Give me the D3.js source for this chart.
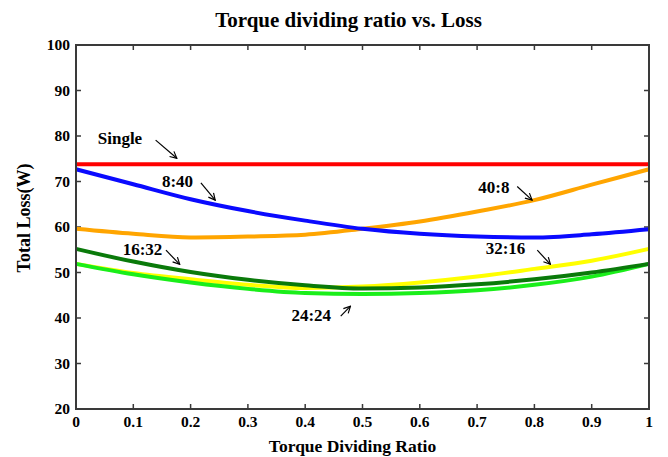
<!DOCTYPE html>
<html lang="en">
<head>
    <meta charset="UTF-8">
    <title>Torque dividing ratio vs. Loss</title>
    <script src="https://d3js.org/d3.v7.min.js"></script>
    <style>
        body { margin: 0; background: #fff; }
        svg { display: block; font-family: "Liberation Serif", "Times New Roman", serif; font-weight: bold; }
    </style>
</head>
<body>
    <div id="chart"></div>
    <script>
        // data
        const ratios = [0, 0.1, 0.2, 0.3, 0.4, 0.5, 0.6, 0.7, 0.8, 0.9, 1];
        const single = [73.8, 73.8, 73.8, 73.8, 73.8, 73.8, 73.8, 73.8, 73.8, 73.8, 73.8];
        const r8_40 = [72.7, 69.4, 66.1, 63.5, 61.4, 59.6, 58.5, 57.9, 57.7, 58.4, 59.5];
        const r40_8 = [59.6, 58.5, 57.7, 57.9, 58.3, 59.6, 61.2, 63.4, 65.9, 69.3, 72.7];
        const r32_16 = [51.9, 49.9, 48.5, 47.3, 46.6, 46.9, 47.8, 49.1, 50.8, 52.6, 55.2];
        const r24_24 = [51.9, 49.6, 47.8, 46.4, 45.5, 45.3, 45.5, 46.1, 47.3, 49.1, 51.9];
        const r16_32 = [55.2, 52.4, 50.1, 48.4, 47.2, 46.5, 46.7, 47.4, 48.5, 50.0, 51.9];
        const xTicks = [0, 0.1, 0.2, 0.3, 0.4, 0.5, 0.6, 0.7, 0.8, 0.9, 1];
        const yTicks = [20, 30, 40, 50, 60, 70, 80, 90, 100];

        // draw order matters: yellow under light green, dark green on top
        const series = [
            { name: "Single", values: single, color: "#ff0000" },
            { name: "40:8", values: r40_8, color: "#ffa500" },
            { name: "8:40", values: r8_40, color: "#0a0aff" },
            { name: "32:16", values: r32_16, color: "#ffff00" },
            { name: "24:24", values: r24_24, color: "#1aee1a" },
            { name: "16:32", values: r16_32, color: "#0a7a0a" }
        ];

        // labels with their arrows, in data units: text start, arrow from -> to
        const notes = [
            { text: "Single", tx: 0.038, ty: 78.2, ax: 0.139, ay: 79.1, bx: 0.176, by: 75.1 },
            { text: "8:40", tx: 0.150, ty: 68.8, ax: 0.218, ay: 69.7, bx: 0.243, by: 65.9 },
            { text: "40:8", tx: 0.702, ty: 67.5, ax: 0.770, ay: 68.9, bx: 0.796, by: 65.9 },
            { text: "16:32", tx: 0.0815, ty: 53.8, ax: 0.157, ay: 54.9, bx: 0.181, by: 51.8 },
            { text: "24:24", tx: 0.376, ty: 39.3, ax: 0.462, ay: 40.4, bx: 0.479, by: 42.6 },
            { text: "32:16", tx: 0.715, ty: 54.0, ax: 0.805, ay: 54.9, bx: 0.828, by: 51.8 }
        ];

        const width = 668, height = 457;
        const margin = { top: 45, right: 19, bottom: 48, left: 76 };

        const svg = d3.select("#chart").append("svg")
            .attr("width", width)
            .attr("height", height);

        const x = d3.scaleLinear().domain([0, 1]).range([margin.left, width - margin.right]);
        const y = d3.scaleLinear().domain([20, 100]).range([height - margin.bottom, margin.top]);

        const axisColor = "#3a3a3a";
        const tickLen = 5;

        // inward ticks on all four sides
        const g = svg.append("g");
        g.selectAll(".xt").data(xTicks).join("line")
            .attr("x1", d => x(d)).attr("x2", d => x(d))
            .attr("y1", y(20)).attr("y2", y(20) - tickLen)
            .attr("stroke", axisColor).attr("stroke-width", 1.5);
        g.selectAll(".xtt").data(xTicks).join("line")
            .attr("x1", d => x(d)).attr("x2", d => x(d))
            .attr("y1", y(100)).attr("y2", y(100) + tickLen)
            .attr("stroke", axisColor).attr("stroke-width", 1.5);
        g.selectAll(".yt").data(yTicks).join("line")
            .attr("x1", x(0)).attr("x2", x(0) + tickLen)
            .attr("y1", d => y(d)).attr("y2", d => y(d))
            .attr("stroke", axisColor).attr("stroke-width", 1.5);
        g.selectAll(".ytr").data(yTicks).join("line")
            .attr("x1", x(1)).attr("x2", x(1) - tickLen)
            .attr("y1", d => y(d)).attr("y2", d => y(d))
            .attr("stroke", axisColor).attr("stroke-width", 1.5);

        // tick labels
        svg.selectAll(".xl").data(xTicks).join("text")
            .attr("x", d => x(d)).attr("y", y(20) + 18)
            .attr("text-anchor", "middle")
            .attr("font-size", 15.5)
            .text(d => d3.format("")(d));
        svg.selectAll(".yl").data(yTicks).join("text")
            .attr("x", x(0) - 6).attr("y", d => y(d) + 5)
            .attr("text-anchor", "end")
            .attr("font-size", 15.5)
            .text(d => d);

        // series lines, slightly smoothed like the original plot
        const line = d3.line()
            .x((d, i) => x(ratios[i]))
            .y(d => y(d))
            .curve(d3.curveMonotoneX);

        svg.selectAll(".series").data(series).join("path")
            .attr("fill", "none")
            .attr("stroke", d => d.color)
            .attr("stroke-width", 4)
            .attr("stroke-linejoin", "round")
            .attr("d", d => line(d.values));

        // frame on top of the lines
        svg.append("rect")
            .attr("x", x(0)).attr("y", y(100))
            .attr("width", x(1) - x(0)).attr("height", y(20) - y(100))
            .attr("fill", "none")
            .attr("stroke", axisColor).attr("stroke-width", 2);

        // annotations
        svg.append("defs").append("marker")
            .attr("id", "head")
            .attr("viewBox", "0 0 10 10")
            .attr("refX", 9).attr("refY", 5)
            .attr("markerWidth", 7).attr("markerHeight", 7)
            .attr("orient", "auto")
            .append("path")
            .attr("d", "M1,1 L9,5 L1,9")
            .attr("fill", "none")
            .attr("stroke", "#000")
            .attr("stroke-width", 1.4);

        svg.selectAll(".note").data(notes).join("text")
            .attr("x", d => x(d.tx)).attr("y", d => y(d.ty))
            .attr("font-size", 17)
            .text(d => d.text);

        svg.selectAll(".arrow").data(notes).join("line")
            .attr("x1", d => x(d.ax)).attr("y1", d => y(d.ay))
            .attr("x2", d => x(d.bx)).attr("y2", d => y(d.by))
            .attr("stroke", "#000").attr("stroke-width", 1.2)
            .attr("marker-end", "url(#head)");

        // titles
        svg.append("text")
            .attr("x", 348.5).attr("y", 27)
            .attr("text-anchor", "middle")
            .attr("font-size", 21)
            .text("Torque dividing ratio vs. Loss");

        svg.append("text")
            .attr("x", 352.5).attr("y", 452)
            .attr("text-anchor", "middle")
            .attr("font-size", 17.5)
            .text("Torque Dividing Ratio");

        svg.append("text")
            .attr("transform", "translate(30,218) rotate(-90)")
            .attr("text-anchor", "middle")
            .attr("font-size", 18)
            .text("Total Loss(W)");
    </script>
</body>
</html>
